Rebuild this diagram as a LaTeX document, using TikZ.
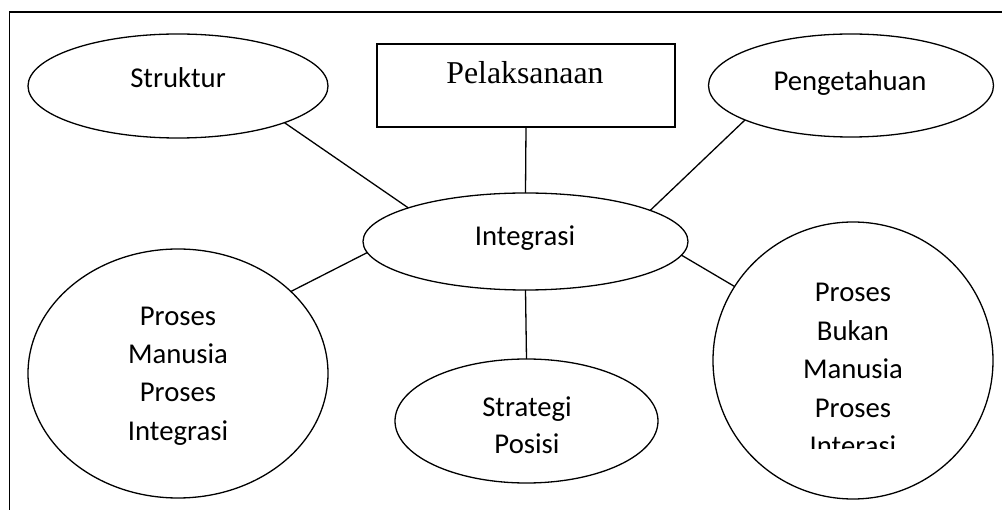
\documentclass[tikz,border=0pt]{standalone}
\usepackage{fontspec}
\setmainfont{Carlito}
\newfontfamily\timesfont{Liberation Serif}
\usetikzlibrary{shapes.geometric}
\begin{document}
\begin{tikzpicture}[x=1pt,y=-1pt,
  shp/.style={draw, line width=1.3pt, inner sep=0pt, outer sep=0pt},
  oval/.style={shp, ellipse},
  lbl/.style={font=\fontsize{28.7}{38.5}\selectfont, inner sep=0pt, anchor=base, align=center},
  conn/.style={line width=1.3pt}]
\clip (0,0) rectangle (1002,510);
\draw[line width=1.5pt] (9.5,530) -- (9.5,12) -- (1020,12);

% shapes
\node[oval, minimum width=300pt, minimum height=104pt] (struktur) at (178,86) {};
\node[shp, rectangle, minimum width=298pt, minimum height=83pt] (pel) at (526,85.5) {};
\node[oval, minimum width=285pt, minimum height=103pt] (peng) at (851,85.5) {};
\node[oval, minimum width=325pt, minimum height=97pt] (integ) at (525.5,241.5) {};
\node[oval, minimum width=300pt, minimum height=249pt] (pm) at (178,373.5) {};
\node[oval, minimum width=263pt, minimum height=124pt] (strat) at (526.5,421) {};
\node[oval, minimum width=280pt, minimum height=277pt] (pb) at (853,360.5) {};

% labels (anchor base = baseline of the last line)
\node[lbl] (struktur-t) at (178,88) {Struktur};
\node[lbl, font=\timesfont\fontsize{31.8}{38}\selectfont] (pel-t) at (525,84) {Pelaksanaan};
\node[lbl] (peng-t) at (850,91) {Pengetahuan};
\node[lbl] (integ-t) at (525,246) {Integrasi};
\node[lbl] (pm-t) at (178,440.5) {Proses\\Manusia\\Proses\\Integrasi};
\node[lbl, font=\fontsize{28.7}{37.5}\selectfont] (strat-t) at (527,454) {Strategi\\Posisi};
\begin{scope}
  \clip (700,200) rectangle (1002,448.5);
  \node[lbl] (pb-t) at (853,456) {Proses\\Bukan\\Manusia\\Proses\\Interasi};
\end{scope}

% connectors
\draw[conn] (struktur.-19) -- (integ.164);
\draw[conn] (pel.south) -- (integ.north);
\draw[conn] (peng.-162.4) -- (integ.14);
\draw[conn] (pm.36) -- (integ.184.5);
\draw[conn] (integ.south) -- (strat.north);
\draw[conn] (pb.148.5) -- (integ.-5);
\end{tikzpicture}
\end{document}
